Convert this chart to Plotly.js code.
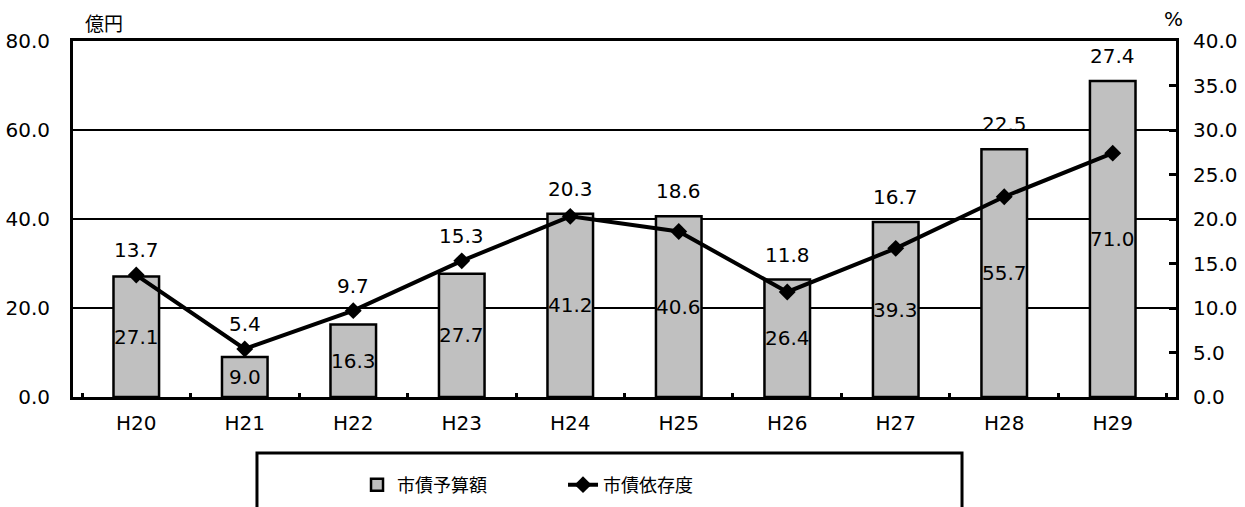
<!DOCTYPE html>
<html>
<head>
<meta charset="utf-8">
<script src="https://cdn.plot.ly/plotly-3.0.1.min.js"></script>
<style>
  html, body { margin: 0; padding: 0; background: #fff; }
  #chart { width: 1245px; height: 507px; }
</style>
</head>
<body>
<div id="chart"></div>
<script>
// 年度
const years = ['H20', 'H21', 'H22', 'H23', 'H24', 'H25', 'H26', 'H27', 'H28', 'H29'];
// 市債予算額（億円）
const bondBudget = [27.1, 9.0, 16.3, 27.7, 41.2, 40.6, 26.4, 39.3, 55.7, 71.0];
// 市債依存度（%）
const bondRatio = [13.7, 5.4, 9.7, 15.3, 20.3, 18.6, 11.8, 16.7, 22.5, 27.4];

const Y_MAX = 80;
const Y2_MAX = 40;
const FONT = 'DejaVu Sans, "Noto Sans CJK JP", sans-serif';
const JP_FONT = '"Noto Sans CJK JP", sans-serif';

const bars = {
  type: 'bar',
  name: '市債予算額',
  x: years,
  y: bondBudget,
  yaxis: 'y',
  marker: { color: '#c0c0c0', line: { color: '#000', width: 2.5 } },
  hoverinfo: 'skip'
};

const line = {
  type: 'scatter',
  mode: 'lines+markers',
  name: '市債依存度',
  x: years,
  y: bondRatio,
  yaxis: 'y2',
  line: { color: '#000', width: 4 },
  marker: { symbol: 'diamond', size: 13, color: '#000' },
  hoverinfo: 'skip'
};

// 棒の中央に予算額、折れ線の上に依存度を表示
const annotations = [];
years.forEach((yr, i) => {
  annotations.push({
    x: yr, y: bondBudget[i] / 2, xref: 'x', yref: 'y',
    text: bondBudget[i].toFixed(1), showarrow: false,
    font: { family: FONT, size: 20, color: '#000' }
  });
  const barTop = bondBudget[i] * (Y2_MAX / Y_MAX);
  annotations.push({
    x: yr, y: Math.max(bondRatio[i], barTop), xref: 'x', yref: 'y2',
    text: bondRatio[i].toFixed(1), showarrow: false, yshift: 25,
    font: { family: FONT, size: 20, color: '#000' }
  });
});

// 軸の単位
annotations.push({
  xref: 'paper', yref: 'paper', x: 0.009, y: 1.0, yshift: 19,
  xanchor: 'left', yanchor: 'middle', showarrow: false,
  text: '億円', font: { family: JP_FONT, size: 19, color: '#000' }
});
annotations.push({
  xref: 'paper', yref: 'paper', x: 0.9973, y: 1.0, yshift: 22,
  xanchor: 'center', yanchor: 'middle', showarrow: false,
  text: '%', font: { family: FONT, size: 20, color: '#000' }
});

const layout = {
  width: 1245,
  height: 507,
  margin: { l: 73, r: 69, t: 41, b: 110, autoexpand: false },
  paper_bgcolor: '#fff',
  plot_bgcolor: '#fff',
  bargap: 0.58,
  showlegend: true,
  legend: {
    orientation: 'h',
    x: 0.2575, xanchor: 'left',
    y: -0.247, yanchor: 'middle',
    entrywidth: 161,
    font: { family: JP_FONT, size: 18, color: '#000' },
    bgcolor: 'rgba(0,0,0,0)',
    borderwidth: 0
  },
  xaxis: {
    type: 'category',
    showline: true, linecolor: '#000', linewidth: 3, mirror: true,
    ticks: 'inside', tickson: 'boundaries', ticklen: 4, tickwidth: 3, tickcolor: '#000',
    ticklabelstandoff: 6,
    tickfont: { family: FONT, size: 20, color: '#000' },
    showgrid: false, zeroline: false, fixedrange: true
  },
  yaxis: {
    range: [0, Y_MAX], dtick: 20, tickformat: '.1f',
    showline: true, linecolor: '#000', linewidth: 3,
    showgrid: true, gridcolor: '#000', gridwidth: 2.5,
    ticks: '', ticklabelstandoff: 16,
    tickfont: { family: FONT, size: 20, color: '#000' },
    zeroline: false, fixedrange: true
  },
  yaxis2: {
    range: [0, Y2_MAX], dtick: 5, tickformat: '.1f',
    overlaying: 'y', side: 'right',
    showline: true, linecolor: '#000', linewidth: 3,
    ticks: 'inside', ticklen: 7, tickwidth: 3, tickcolor: '#000',
    ticklabelstandoff: 10,
    tickfont: { family: FONT, size: 20, color: '#000' },
    showgrid: false, zeroline: false, fixedrange: true
  },
  shapes: [{
    type: 'rect', xref: 'paper', yref: 'paper',
    x0: 0.1668, x1: 0.806, y0: -0.157, y1: -0.36,
    line: { color: '#000', width: 3 }, fillcolor: 'rgba(0,0,0,0)'
  }],
  annotations: annotations
};

Plotly.newPlot('chart', [bars, line], layout, { staticPlot: true, displayModeBar: false });
</script>
</body>
</html>
